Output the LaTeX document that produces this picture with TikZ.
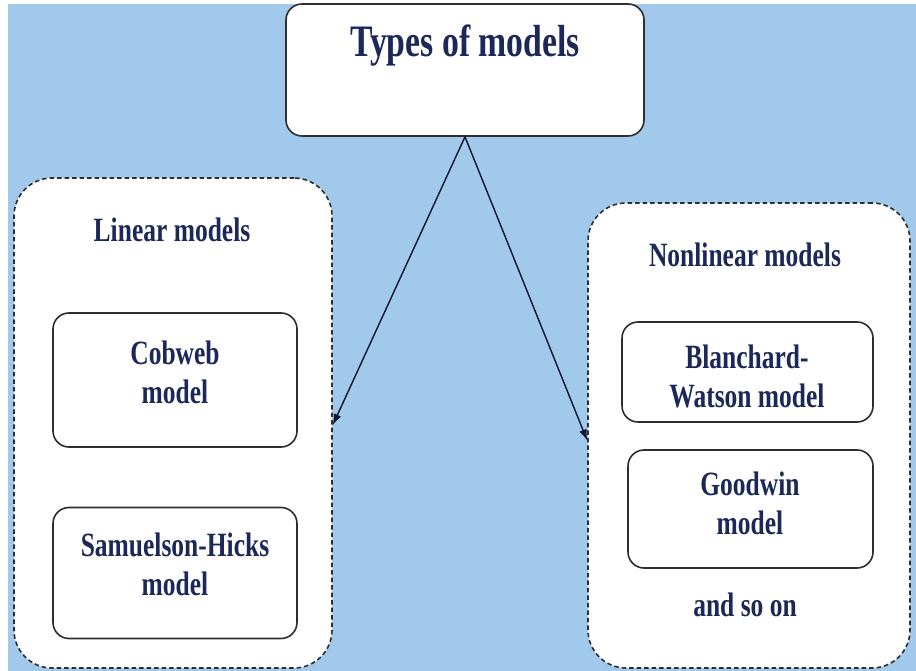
\documentclass[tikz,border=0pt]{standalone}
\usepackage{fontspec}
\setmainfont{Liberation Serif}
\newfontfamily\lblfont[FakeStretch=0.75]{Liberation Serif}
\usetikzlibrary{arrows.meta}
\definecolor{bgblue}{HTML}{A0C9EC}
\definecolor{navy}{HTML}{1C2858}
\definecolor{edgegray}{HTML}{2E2E2E}
\begin{document}
\begin{tikzpicture}[x=1pt,y=-1pt,
  container/.style={draw=edgegray, line width=1.6pt, dash pattern=on 4.5pt off 3pt, fill=white, rounded corners=38pt, inner sep=0pt},
  modelbox/.style={draw=edgegray, line width=1.6pt, fill=white, rounded corners=16pt, inner sep=0pt},
  lbl/.style={text=navy, font=\lblfont\bfseries\fontsize{34}{39}\selectfont, align=center, inner sep=0pt},
  titlelbl/.style={text=navy, font=\lblfont\bfseries\fontsize{45}{50}\selectfont, align=center, inner sep=0pt},
  conn/.style={draw=navy!50!black, line width=1.4pt, -{Latex[length=11pt,width=8pt]}}]
\useasboundingbox (0,0) rectangle (916,671);
\fill[white] (0,0) rectangle (916,671);
\fill[bgblue] (8,4) rectangle (916,671);
% top box
\node[modelbox, minimum width=358pt, minimum height=132pt] (top) at (465,70) {};
\node[titlelbl] (toptext) at (465,46) {Types of models};
% containers
\node[container, minimum width=318pt, minimum height=490pt] (L) at (173,423) {};
\node[container, minimum width=322pt, minimum height=465pt] (R) at (749,435.5) {};
\node[lbl] (Ltitle) at (172,230) {Linear models};
\node[lbl] (Rtitle) at (745,255) {Nonlinear models};
% inner boxes
\node[modelbox, minimum width=244pt, minimum height=134pt] (cob) at (175,380) {};
\node[lbl] (cobtext) at (175,372) {Cobweb\\model};
\node[modelbox, minimum width=244pt, minimum height=131pt] (sam) at (175,573) {};
\node[lbl] (samtext) at (175,564) {Samuelson-Hicks\\model};
\node[modelbox, minimum width=251pt, minimum height=100pt] (bw) at (747.5,372) {};
\node[lbl] (bwtext) at (747,376) {Blanchard-\\Watson model};
\node[modelbox, minimum width=245pt, minimum height=118pt] (gw) at (750.5,509) {};
\node[lbl] (gwtext) at (750,503) {Goodwin\\model};
\node[lbl] (more) at (745,605) {and so on};
% connectors
\draw[conn] (top.south) -- ([yshift=-2pt]L.east);
\draw[conn] (top.south) -- ([yshift=-5pt]R.west);
\end{tikzpicture}
\end{document}
